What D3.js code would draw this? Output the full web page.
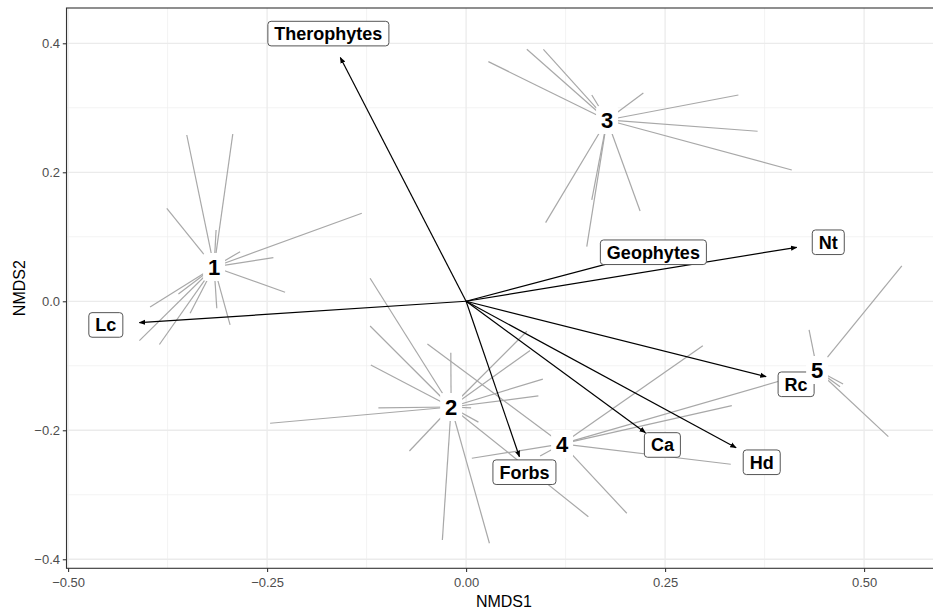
<!DOCTYPE html>
<html>
<head>
<meta charset="utf-8">
<script src="https://cdn.jsdelivr.net/npm/d3@7"></script>
<style>
html,body{margin:0;padding:0;background:#fff;}
svg{display:block;font-family:"Liberation Sans",Arial,sans-serif;}
</style>
</head>
<body>
<svg id="chart" width="933" height="610"></svg>
<script>
// ---- data ----
const clusterIds = ["1","2","3","4","5"];
const centroidX = [-0.3166, -0.0188, 0.1771, 0.1206, 0.4410];
const centroidY = [0.0532, -0.1639, 0.2811, -0.2212, -0.1065];

const sites1 = [[-0.3509,0.2578],[-0.2931,0.2594],[-0.3760,0.1442],[-0.3141,0.1105],[-0.1310,0.1364],
  [-0.2839,0.0769],[-0.2421,0.0676],[-0.2274,0.0140],[-0.3970,-0.0088],[-0.3614,0.0113],
  [-0.4104,-0.0611],[-0.3853,-0.0670],[-0.3467,-0.0186],[-0.3132,-0.0109],[-0.2965,-0.0367]];
const sites2 = [[-0.1206,0.0357],[-0.1206,-0.0383],[-0.1197,-0.0988],[-0.1102,-0.1654],[-0.2462,-0.1891],
  [-0.0192,-0.0797],[0.0763,-0.0465],[0.0804,-0.0763],[0.0964,-0.1208],[0.0908,-0.1468],
  [0.0063,-0.1654],[0.0155,-0.1874],[-0.0712,-0.2321],[-0.0298,-0.3701],[0.0293,-0.3752],[0.1536,-0.3340]];
const sites3 = [[0.0280,0.3715],[0.0763,0.3907],[0.0971,0.3907],[0.1579,0.3198],[0.2227,0.3229],
  [0.3421,0.3198],[0.3662,0.2636],[0.4092,0.2036],[0.2186,0.1400],[0.0999,0.1219],
  [0.1516,0.0847],[0.1579,0.1571]];
const sites4 = [[-0.0486,-0.0662],[0.2974,-0.0688],[0.3338,-0.1619],[0.4070,-0.1189],[0.3325,-0.2527],
  [0.2019,-0.3287],[0.0072,-0.2434],[0.0930,-0.2398]];
const sites5 = [[0.5474,0.0547],[0.4309,-0.0445],[0.5305,-0.2099],[0.4698,-0.1324],[0.4736,-0.1282]];
const clusterSites = [sites1, sites2, sites3, sites4, sites5];

const vectorNames = ["Therophytes","Geophytes","Nt","Lc","Forbs","Ca","Hd","Rc"];
const vectorX = [-0.158, 0.220, 0.4154, -0.4104, 0.067, 0.2253, 0.3392, 0.3769];
const vectorY = [0.378, 0.072, 0.0837, -0.0332, -0.241, -0.2037, -0.227, -0.1169];
const labelX = [-0.173, 0.2353, 0.455, -0.4526, 0.0733, 0.2466, 0.3714, 0.4146];
const labelY = [0.415, 0.076, 0.0915, -0.0367, -0.265, -0.2228, -0.2496, -0.1287];

const xTicks = [-0.50, -0.25, 0.00, 0.25, 0.50];
const yTicks = [-0.4, -0.2, 0.0, 0.2, 0.4];
const xMinor = [-0.375, -0.125, 0.125, 0.375];
const yMinor = [-0.3, -0.1, 0.1, 0.3];
const xTitle = "NMDS1", yTitle = "NMDS2";

// ---- layout ----
const svg = d3.select("#chart");
const pL = 66.5, pR = 941.3, pT = 8, pB = 568.3;
const x = d3.scaleLinear().domain([-0.502, 0.597]).range([pL, pR]);
const y = d3.scaleLinear().domain([-0.414, 0.4547]).range([pB, pT]);

const defs = svg.append("defs");
defs.append("clipPath").attr("id","panel").append("rect")
  .attr("x",pL).attr("y",pT).attr("width",pR-pL).attr("height",pB-pT);
defs.append("marker").attr("id","arr").attr("viewBox","0 0 10 10")
  .attr("refX",9).attr("refY",5).attr("markerWidth",6.5).attr("markerHeight",6.5)
  .attr("markerUnits","userSpaceOnUse").attr("orient","auto")
  .append("path").attr("d","M0,1 L10,5 L0,9 Z").attr("fill","#000");

// grid
const grid = svg.append("g").attr("clip-path","url(#panel)");
grid.selectAll(".xm").data(xMinor).enter().append("line")
  .attr("x1",d=>x(d)).attr("x2",d=>x(d)).attr("y1",pT).attr("y2",pB)
  .attr("stroke","#f0f0f0").attr("stroke-width",0.8);
grid.selectAll(".ym").data(yMinor).enter().append("line")
  .attr("y1",d=>y(d)).attr("y2",d=>y(d)).attr("x1",pL).attr("x2",pR)
  .attr("stroke","#f0f0f0").attr("stroke-width",0.8);
grid.selectAll(".xM").data(xTicks).enter().append("line")
  .attr("x1",d=>x(d)).attr("x2",d=>x(d)).attr("y1",pT).attr("y2",pB)
  .attr("stroke","#ebebeb").attr("stroke-width",1.3);
grid.selectAll(".yM").data(yTicks).enter().append("line")
  .attr("y1",d=>y(d)).attr("y2",d=>y(d)).attr("x1",pL).attr("x2",pR)
  .attr("stroke","#ebebeb").attr("stroke-width",1.3);

const plot = svg.append("g").attr("clip-path","url(#panel)");

// spider lines
clusterSites.forEach((sites,i)=>{
  plot.selectAll(null).data(sites).enter().append("line")
    .attr("x1",x(centroidX[i])).attr("y1",y(centroidY[i]))
    .attr("x2",d=>x(d[0])).attr("y2",d=>y(d[1]))
    .attr("stroke","#a8a8a8").attr("stroke-width",1.2);
});

// arrows
plot.selectAll(".vec").data(vectorNames).enter().append("line")
  .attr("x1",x(0)).attr("y1",y(0))
  .attr("x2",(d,i)=>x(vectorX[i])).attr("y2",(d,i)=>y(vectorY[i]))
  .attr("stroke","#000").attr("stroke-width",1.2)
  .attr("marker-end","url(#arr)");

// vector labels
const vl = plot.selectAll(".vl").data(vectorNames).enter().append("g")
  .attr("transform",(d,i)=>`translate(${x(labelX[i])},${y(labelY[i])})`);
vl.append("rect").attr("class","bx");
vl.append("text").text(d=>d).attr("text-anchor","middle").attr("dy","0.36em")
  .attr("font-size","18px").attr("font-weight","bold").attr("fill","#000");
vl.each(function(){
  const g=d3.select(this); const w=g.select("text").node().getComputedTextLength();
  g.select("rect").attr("x",-w/2-6.5).attr("y",-12.3).attr("width",w+13).attr("height",24.6)
   .attr("rx",3.2).attr("fill","#fff").attr("stroke","#555").attr("stroke-width",1);
});

// cluster labels
const cl = plot.selectAll(".cl").data(clusterIds).enter().append("g")
  .attr("transform",(d,i)=>`translate(${x(centroidX[i])},${y(centroidY[i])})`);
cl.append("rect").attr("x",-11).attr("y",-14).attr("width",22).attr("height",28)
  .attr("rx",3).attr("fill","#fff");
cl.append("text").text(d=>d).attr("text-anchor","middle").attr("dy","0.36em")
  .attr("font-size","22px").attr("font-weight","bold").attr("fill","#000");

// panel border
svg.append("rect").attr("x",pL).attr("y",pT).attr("width",pR-pL).attr("height",pB-pT)
  .attr("fill","none").attr("stroke","#333").attr("stroke-width",1.1);

// axes
const xAxis = svg.append("g").attr("transform",`translate(0,${pB})`)
  .call(d3.axisBottom(x).tickValues(xTicks).tickFormat(d3.format(".2f")).tickSize(3.7).tickSizeOuter(0));
const yAxis = svg.append("g").attr("transform",`translate(${pL},0)`)
  .call(d3.axisLeft(y).tickValues(yTicks).tickFormat(d3.format(".1f")).tickSize(3.7).tickSizeOuter(0));
[xAxis,yAxis].forEach(a=>{
  a.select(".domain").remove();
  a.selectAll(".tick line").attr("stroke","#333").attr("stroke-width",1.1);
  a.selectAll(".tick text").attr("fill","#4d4d4d").attr("font-size","13px")
   .attr("font-family","'Liberation Sans',Arial,sans-serif");
});
xAxis.selectAll(".tick text").attr("y",9).attr("dy","0.71em");
yAxis.selectAll(".tick text").attr("x",-6.5).attr("dy","0.35em");

svg.append("text").attr("x",(pL+pR)/2).attr("y",607).attr("text-anchor","middle")
  .attr("font-size","16px").attr("fill","#000").text(xTitle);
svg.append("text").attr("transform",`translate(25,${(pT+pB)/2}) rotate(-90)`)
  .attr("text-anchor","middle").attr("font-size","16px").attr("fill","#000").text(yTitle);
</script>
</body>
</html>
